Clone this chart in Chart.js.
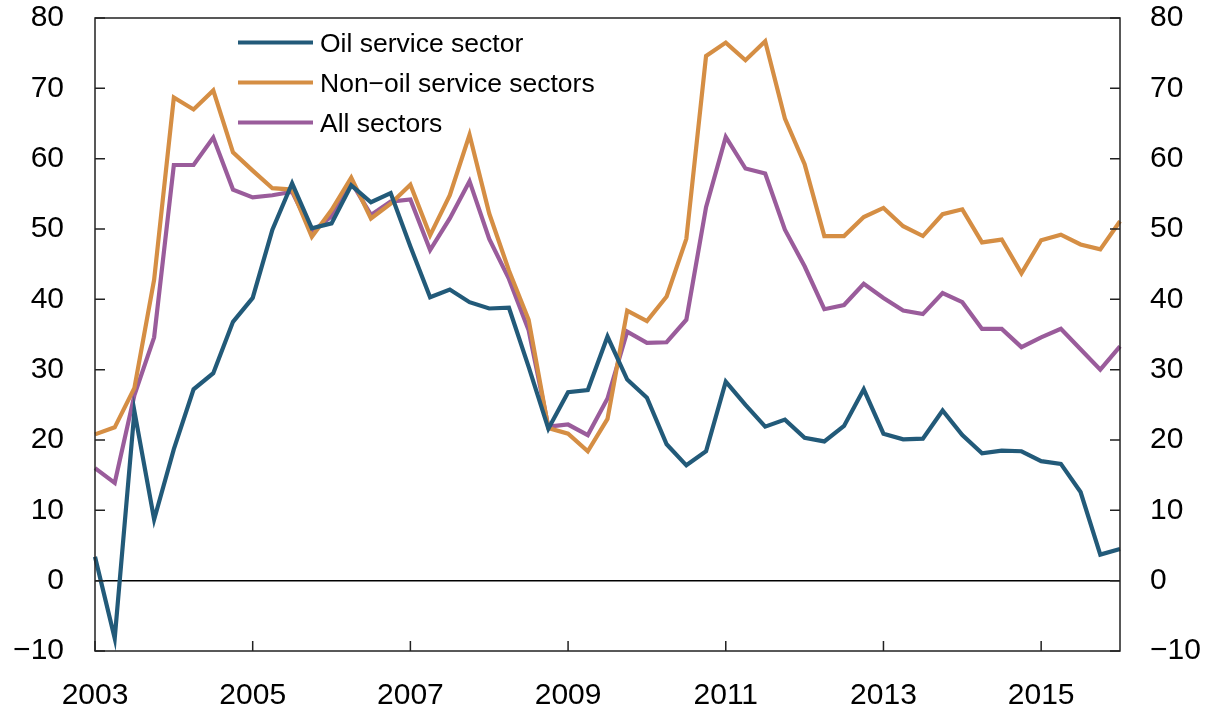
<!DOCTYPE html>
<html>
<head>
<meta charset="utf-8">
<script src="https://cdn.jsdelivr.net/npm/chart.js@4.4.1/dist/chart.umd.min.js"></script>
<style>
  html, body { margin: 0; padding: 0; background: #fff; }
  #wrap { width: 1210px; height: 712px; }
</style>
</head>
<body>
<div id="wrap"><canvas id="chart" width="1210" height="712"></canvas></div>
<script>
// quarterly observations, 2003 Q1 .. 2016 Q1
const quarters = [
  "2003Q1", "2003Q2", "2003Q3", "2003Q4", "2004Q1", "2004Q2", "2004Q3", "2004Q4",
  "2005Q1", "2005Q2", "2005Q3", "2005Q4", "2006Q1", "2006Q2", "2006Q3", "2006Q4",
  "2007Q1", "2007Q2", "2007Q3", "2007Q4", "2008Q1", "2008Q2", "2008Q3", "2008Q4",
  "2009Q1", "2009Q2", "2009Q3", "2009Q4", "2010Q1", "2010Q2", "2010Q3", "2010Q4",
  "2011Q1", "2011Q2", "2011Q3", "2011Q4", "2012Q1", "2012Q2", "2012Q3", "2012Q4",
  "2013Q1", "2013Q2", "2013Q3", "2013Q4", "2014Q1", "2014Q2", "2014Q3", "2014Q4",
  "2015Q1", "2015Q2", "2015Q3", "2015Q4", "2016Q1",
];

const oilService = [
  3.4, -8.2, 24.1, 8.7, 18.7, 27.2, 29.5, 36.8,
  40.2, 49.9, 56.5, 50.1, 50.8, 56.2, 53.8, 55.1,
  47.5, 40.3, 41.4, 39.6, 38.7, 38.8, 30.4, 21.6,
  26.8, 27.1, 34.7, 28.6, 26.0, 19.4, 16.4, 18.4,
  28.3, 25.0, 21.9, 22.9, 20.3, 19.8, 22.0, 27.2,
  20.9, 20.1, 20.2, 24.2, 20.7, 18.1, 18.5, 18.4,
  17.0, 16.6, 12.6, 3.7, 4.5,
];

const nonOilService = [
  20.8, 21.8, 27.4, 42.8, 68.7, 67.0, 69.7, 60.9,
  58.3, 55.8, 55.6, 48.9, 52.7, 57.3, 51.5, 53.6,
  56.3, 49.1, 54.8, 63.4, 52.2, 44.1, 37.1, 21.7,
  20.9, 18.4, 23.0, 38.4, 36.9, 40.4, 48.6, 74.6,
  76.5, 74.0, 76.7, 65.7, 59.2, 49.0, 49.0, 51.7,
  53.0, 50.4, 49.0, 52.1, 52.8, 48.1, 48.5, 43.7,
  48.4, 49.2, 47.8, 47.1, 51.1,
];

const allSectors = [
  16.0, 13.9, 26.4, 34.6, 59.1, 59.1, 63.0, 55.6,
  54.5, 54.8, 55.3, 49.6, 51.8, 56.7, 52.0, 53.9,
  54.2, 47.0, 51.5, 56.8, 48.6, 42.9, 35.6, 21.9,
  22.2, 20.7, 25.9, 35.4, 33.8, 33.9, 37.1, 53.1,
  63.1, 58.6, 57.9, 49.9, 44.7, 38.6, 39.2, 42.2,
  40.2, 38.4, 37.9, 40.9, 39.6, 35.8, 35.8, 33.2,
  34.6, 35.8, 32.9, 30.0, 33.3,
];

const yearTicks = ["2003", "2005", "2007", "2009", "2011", "2013", "2015"];

const FONT = "'Liberation Sans', Arial, Helvetica, sans-serif";

function isYearTick(idx) {
  const q = quarters[idx];
  return q.endsWith("Q1") && yearTicks.includes(q.slice(0, 4));
}

function fmt(v) {
  return v < 0 ? "\u2212" + Math.abs(v) : String(v);
}

// keep the plot area fixed: no extra room for half labels
function noPad(s) {
  s.paddingTop = 0;
  s.paddingBottom = 0;
  s.paddingLeft = 0;
  s.paddingRight = 0;
}

// frame, zero line, inward tick marks and legend
const decorations = {
  id: "decorations",
  beforeDatasetsDraw(chart) {
    const { ctx, chartArea: a, scales } = chart;
    const y0 = scales.y.getPixelForValue(0);
    ctx.save();
    ctx.strokeStyle = "#000";
    ctx.lineWidth = 1.5;
    ctx.beginPath();
    ctx.moveTo(a.left, y0);
    ctx.lineTo(a.right, y0);
    ctx.stroke();
    ctx.restore();
  },
  afterDatasetsDraw(chart) {
    const { ctx, chartArea: a, scales } = chart;
    ctx.save();
    ctx.strokeStyle = "#222";
    ctx.lineWidth = 1.5;
    ctx.strokeRect(a.left, a.top, a.right - a.left, a.bottom - a.top);
    ctx.beginPath();
    scales.y.ticks.forEach((t) => {
      const py = scales.y.getPixelForValue(t.value);
      ctx.moveTo(a.left, py);
      ctx.lineTo(a.left + 10, py);
      ctx.moveTo(a.right, py);
      ctx.lineTo(a.right - 10, py);
    });
    quarters.forEach((q, i) => {
      if (!isYearTick(i)) return;
      const px = scales.x.getPixelForValue(i);
      ctx.moveTo(px, a.bottom);
      ctx.lineTo(px, a.bottom - 10);
    });
    ctx.stroke();
    ctx.restore();
  },
  afterDraw(chart) {
    const { ctx } = chart;
    ctx.save();
    ctx.font = "26.5px " + FONT;
    ctx.fillStyle = "#000";
    ctx.textBaseline = "alphabetic";
    chart.data.datasets.forEach((ds, i) => {
      const y = 42.5 + i * 40;
      ctx.strokeStyle = ds.borderColor;
      ctx.lineWidth = 4;
      ctx.beginPath();
      ctx.moveTo(238, y);
      ctx.lineTo(313, y);
      ctx.stroke();
      ctx.fillText(ds.label, 320, y + 9.5);
    });
    ctx.restore();
  },
};

const tickFont = { family: FONT, size: 30 };

new Chart(document.getElementById("chart"), {
  type: "line",
  data: {
    labels: quarters,
    datasets: [
      { label: "Oil service sector", data: oilService, borderColor: "#225a79" },
      { label: "Non\u2212oil service sectors", data: nonOilService, borderColor: "#d58e44" },
      { label: "All sectors", data: allSectors, borderColor: "#9a5c9b" },
    ].map((d) => ({ ...d, borderWidth: 4.2, pointRadius: 0, tension: 0, fill: false })),
  },
  options: {
    responsive: false,
    animation: false,
    devicePixelRatio: 1,
    layout: { padding: { top: 18, left: 0, right: 0, bottom: 0 } },
    plugins: { legend: { display: false }, tooltip: { enabled: false } },
    scales: {
      x: {
        type: "category",
        offset: false,
        grid: { display: false, drawTicks: false },
        border: { display: false },
        ticks: {
          autoSkip: false,
          maxRotation: 0,
          minRotation: 0,
          padding: 27,
          color: "#000",
          font: tickFont,
          callback: (v, i) => (isYearTick(i) ? quarters[i].slice(0, 4) : ""),
        },
        afterFit: (s) => { s.height = 61; noPad(s); },
      },
      y: {
        position: "left",
        min: -10,
        max: 80,
        grid: { display: false, drawTicks: false },
        border: { display: false },
        ticks: { stepSize: 10, padding: 31, color: "#000", font: tickFont, callback: fmt },
        afterFit: (s) => { s.width = 95; noPad(s); },
      },
      y2: {
        position: "right",
        min: -10,
        max: 80,
        grid: { display: false, drawTicks: false },
        border: { display: false },
        ticks: { stepSize: 10, padding: 30, color: "#000", font: tickFont, callback: fmt },
        afterFit: (s) => { s.width = 90; noPad(s); },
      },
    },
  },
  plugins: [decorations],
});
</script>
</body>
</html>
